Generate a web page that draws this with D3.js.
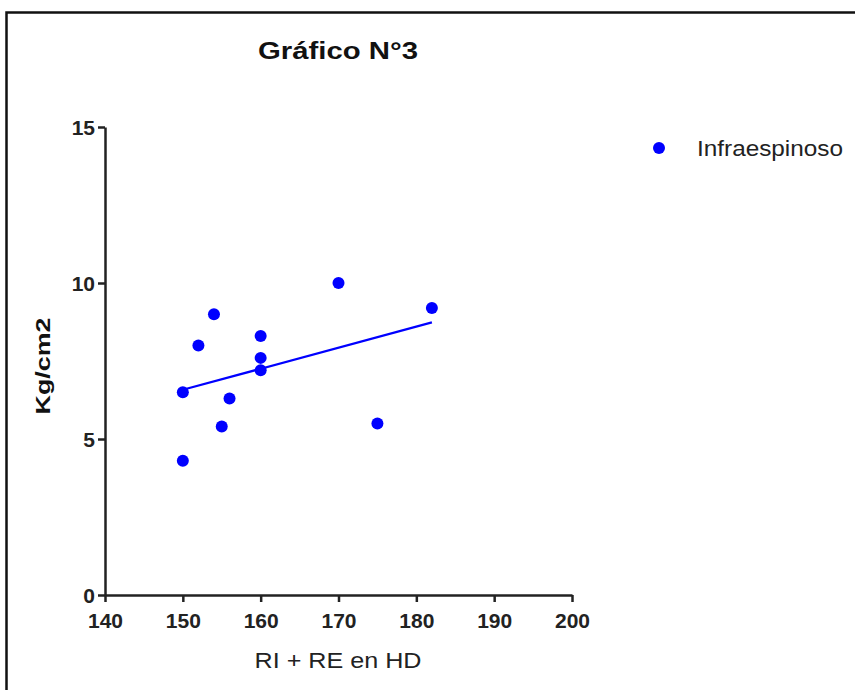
<!DOCTYPE html>
<html>
<head>
<meta charset="UTF-8" />
<script src="https://cdn.jsdelivr.net/npm/d3@7"></script>
<style>
  body { margin: 0; background: white; overflow: hidden; }
  svg { display: block; font-family: "Liberation Sans", Arial, sans-serif; }
</style>
</head>
<body>
<div id="chart"></div>
<script>
// data
const xValues = [150, 150, 152, 154, 155, 156, 160, 160, 160, 170, 175, 182];
const yValues = [4.3, 6.5, 8.0, 9.0, 5.4, 6.3, 8.3, 7.6, 7.2, 10.0, 5.5, 9.2];
const xTicks = [140, 150, 160, 170, 180, 190, 200];
const yTicks = [0, 5, 10, 15];
const seriesName = "Infraespinoso";

const w = 855, h = 690;
const svg = d3.select("#chart").append("svg").attr("width", w).attr("height", h);

// frame (only top and left edges show)
svg.append("path").attr("d", "M6.5,700V12.5H860")
  .attr("fill", "none").attr("stroke", "#111").attr("stroke-width", 2.5);

const x = d3.scaleLinear().domain([140, 200]).range([105, 572]);
const y = d3.scaleLinear().domain([0, 15]).range([595, 127]);

const xAxis = svg.append("g").attr("transform", "translate(0,595)")
  .call(d3.axisBottom(x).tickValues(xTicks).tickSize(7).tickPadding(11).tickSizeOuter(0));
const yAxis = svg.append("g").attr("transform", "translate(105,0)")
  .call(d3.axisLeft(y).tickValues(yTicks).tickSize(7).tickPadding(3).tickSizeOuter(0));

[xAxis, yAxis].forEach(g => {
  g.select(".domain").attr("stroke", "#222").attr("stroke-width", 2.5);
  g.selectAll(".tick line").attr("stroke", "#222").attr("stroke-width", 2.5);
  g.selectAll(".tick text").attr("fill", "#222").attr("font-size", 21)
    .attr("font-weight", "bold").attr("font-family", "'Liberation Sans', Arial, sans-serif");
});
xAxis.selectAll(".tick text").attr("dy", "0.72em");
yAxis.selectAll(".tick text").attr("dy", "0.36em");

// regression line
const pts = xValues.map((v, i) => [v, yValues[i]]);
const mx = d3.mean(xValues), my = d3.mean(yValues);
const slope = d3.sum(pts, p => (p[0] - mx) * (p[1] - my)) / d3.sum(pts, p => (p[0] - mx) ** 2);
const x0 = d3.min(xValues), x1 = d3.max(xValues);
svg.append("line")
  .attr("x1", x(x0)).attr("y1", y(my + slope * (x0 - mx)))
  .attr("x2", x(x1)).attr("y2", y(my + slope * (x1 - mx)))
  .attr("stroke", "#0000ff").attr("stroke-width", 2.2);

svg.selectAll("circle.pt").data(pts).enter().append("circle")
  .attr("class", "pt")
  .attr("cx", d => x(d[0])).attr("cy", d => y(d[1])).attr("r", 6)
  .attr("fill", "#0000ff");

// titles (the reference font is a bit wider, so stretch to the measured width)
svg.append("text").attr("x", 338).attr("y", 59).attr("text-anchor", "middle")
  .attr("font-size", 24).attr("font-weight", "bold").attr("fill", "#111")
  .attr("textLength", 160).attr("lengthAdjust", "spacingAndGlyphs").text("Gráfico N°3");
svg.append("text").attr("x", 338).attr("y", 668).attr("text-anchor", "middle")
  .attr("font-size", 22).attr("fill", "#222")
  .attr("textLength", 167).attr("lengthAdjust", "spacingAndGlyphs").text("RI + RE en HD");
svg.append("text").attr("transform", "translate(50,366) rotate(-90)").attr("text-anchor", "middle")
  .attr("font-size", 21).attr("font-weight", "bold").attr("fill", "#111")
  .attr("textLength", 97).attr("lengthAdjust", "spacingAndGlyphs").text("Kg/cm2");

// legend
svg.append("circle").attr("cx", 659).attr("cy", 148).attr("r", 6).attr("fill", "#0000ff");
svg.append("text").attr("x", 697).attr("y", 156).attr("font-size", 22).attr("fill", "#222")
  .attr("textLength", 146).attr("lengthAdjust", "spacingAndGlyphs").text(seriesName);
</script>
</body>
</html>
